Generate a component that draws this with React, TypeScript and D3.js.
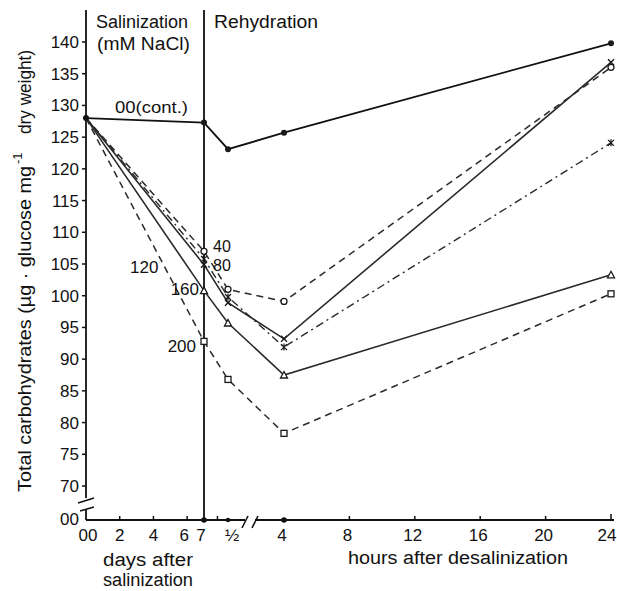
import React from "react";
import * as d3 from "d3";

const W = 617;
const H = 591;

// ---- data ----
const yTickValues = [70, 75, 80, 85, 90, 95, 100, 105, 110, 115, 120, 125, 130, 135, 140];
const dayTicks = [0, 2, 4, 6, 7];
const dayTickLabels = ["00", "2", "4", "6", "7"];
const lateHourTicks = [4, 8, 12, 16, 20, 24];
const lateHourLabels = ["4", "8", "12", "16", "20", "24"];

// sampling times: [phase, time]
const samplePhases = ["day", "day", "early", "late", "late"];
const sampleTimes = [0, 7, 0.5, 4, 24];

const control = [128, 127.3, 123.1, 125.7, 139.8];
const nacl40 = [128, 107, 101, 99.1, 136];
const nacl80 = [128, 104.9, 98.9, 93.2, 136.8];
const nacl120 = [128, 105.8, 99.8, 91.9, 124.1];
const nacl160 = [128, 100.8, 95.7, 87.5, 103.3];
const nacl200 = [128, 92.8, 86.8, 78.3, 100.3];

const seriesLabels = ["00(cont.)", "40", "80", "120", "160", "200"];

// ---- scales ----
const xDays = d3.scaleLinear().domain([0, 7]).range([86, 204]);
const xEarly = d3.scaleLinear().domain([0, 0.5]).range([204, 228]);
const xLate = d3.scaleLinear().domain([4, 24]).range([284, 611]);
const y = d3.scaleLinear().domain([70, 140]).range([486, 42]);
const AXIS_Y = 520;

function xPos(phase: string, t: number) {
  if (phase === "day") return xDays(t);
  if (phase === "early") return xEarly(t);
  return xLate(t);
}

type Style = { dash: string; marker: string; width: number };
const styles: Style[] = [
  { dash: "", marker: "dot", width: 1.8 },
  { dash: "7,5", marker: "circle", width: 1.5 },
  { dash: "", marker: "x", width: 1.6 },
  { dash: "8,4,2,4", marker: "star", width: 1.4 },
  { dash: "", marker: "triangle", width: 1.6 },
  { dash: "7,5", marker: "square", width: 1.5 },
];
const allSeries = [control, nacl40, nacl80, nacl120, nacl160, nacl200];

function Marker({ kind, cx, cy }: { kind: string; cx: number; cy: number }) {
  const c = "#1a1a1a";
  if (kind === "dot") return <circle cx={cx} cy={cy} r={3} fill={c} />;
  if (kind === "circle") return <circle cx={cx} cy={cy} r={3} fill="white" stroke={c} strokeWidth={1.3} />;
  if (kind === "square")
    return <rect x={cx - 3} y={cy - 3} width={6} height={6} fill="white" stroke={c} strokeWidth={1.3} />;
  if (kind === "triangle")
    return (
      <path d={`M${cx},${cy - 3.5}L${cx + 3.5},${cy + 3}L${cx - 3.5},${cy + 3}Z`} fill="white" stroke={c} strokeWidth={1.3} />
    );
  if (kind === "x")
    return (
      <path d={`M${cx - 3},${cy - 3}L${cx + 3},${cy + 3}M${cx - 3},${cy + 3}L${cx + 3},${cy - 3}`} stroke={c} strokeWidth={1.4} />
    );
  return (
    <path
      d={`M${cx - 3},${cy - 3}L${cx + 3},${cy + 3}M${cx - 3},${cy + 3}L${cx + 3},${cy - 3}M${cx},${cy - 3.5}L${cx},${cy + 3.5}`}
      stroke={c}
      strokeWidth={1.2}
    />
  );
}

export default function App() {
  const line = d3
    .line<number>()
    .x((_, i) => xPos(samplePhases[i], sampleTimes[i]))
    .y((v) => y(v));

  const font = "'Liberation Sans', Arial, sans-serif";
  const ink = "#111";

  const lx = xDays(7);
  return (
    <svg
      width={W}
      height={H}
      style={{ position: "absolute", left: 0, top: 0, background: "white" }}
      fontFamily={font}
      fill={ink}
    >
      <rect width={W} height={H} fill="white" />

      {/* y axis */}
      <line x1={86} y1={10} x2={86} y2={498} stroke={ink} strokeWidth={1.8} />
      <line x1={86} y1={510} x2={86} y2={AXIS_Y} stroke={ink} strokeWidth={1.8} />
      <line x1={78} y1={503} x2={94} y2={498} stroke={ink} strokeWidth={1.6} />
      <line x1={80} y1={511} x2={94} y2={507} stroke={ink} strokeWidth={1.6} />
      {yTickValues.map((v) => (
        <g key={v}>
          <line x1={82} x2={86} y1={y(v)} y2={y(v)} stroke={ink} strokeWidth={1.5} />
          <text x={79} y={y(v) + 6} fontSize={17} textAnchor="end">
            {v}
          </text>
        </g>
      ))}
      <text x={79} y={525} fontSize={17} textAnchor="end">
        00
      </text>

      {/* divider */}
      <line x1={xDays(7)} y1={10} x2={xDays(7)} y2={AXIS_Y} stroke={ink} strokeWidth={1.8} />

      {/* x axis */}
      <line x1={86} y1={AXIS_Y} x2={245} y2={AXIS_Y} stroke={ink} strokeWidth={1.8} />
      <line x1={255} y1={AXIS_Y} x2={614} y2={AXIS_Y} stroke={ink} strokeWidth={1.8} />
      <line x1={242} y1={528} x2={248} y2={516} stroke={ink} strokeWidth={1.6} />
      <line x1={252} y1={528} x2={258} y2={516} stroke={ink} strokeWidth={1.6} />
      {dayTicks.map((d, i) => (
        <g key={"d" + d}>
          {d > 0 && d < 7 && <line x1={xDays(d)} x2={xDays(d)} y1={AXIS_Y - 4} y2={AXIS_Y} stroke={ink} strokeWidth={1.5} />}
          <text x={xDays(d) + (d === 0 ? 2 : d >= 6 ? -3 : 0)} y={541} fontSize={17} textAnchor="middle">
            {dayTickLabels[i]}
          </text>
        </g>
      ))}
      <circle cx={xDays(7)} cy={AXIS_Y} r={2.8} fill={ink} />
      <line x1={xEarly(0.28)} x2={xEarly(0.28)} y1={AXIS_Y - 4} y2={AXIS_Y} stroke={ink} strokeWidth={1.5} />
      <circle cx={xEarly(0.5)} cy={AXIS_Y} r={2.2} fill={ink} />
      <text x={xEarly(0.5) + 4} y={541} fontSize={17} textAnchor="middle">
        ½
      </text>
      {lateHourTicks.map((h, i) => (
        <g key={"h" + h}>
          {h === 4 ? (
            <circle cx={xLate(h)} cy={AXIS_Y} r={2.8} fill={ink} />
          ) : (
            <line x1={xLate(h)} x2={xLate(h)} y1={AXIS_Y - (h === 24 ? 6 : 4)} y2={AXIS_Y} stroke={ink} strokeWidth={1.5} />
          )}
          <text x={xLate(h) - (h === 24 ? 4 : 2)} y={541} fontSize={17} textAnchor="middle">
            {lateHourLabels[i]}
          </text>
        </g>
      ))}

      {/* axis titles */}
      <text x={148} y={566} fontSize={18} textAnchor="middle" textLength={90} lengthAdjust="spacingAndGlyphs">
        days after
      </text>
      <text x={148} y={586} fontSize={18} textAnchor="middle" textLength={90} lengthAdjust="spacingAndGlyphs">
        salinization
      </text>
      <text x={458} y={564} fontSize={18} textAnchor="middle" textLength={220} lengthAdjust="spacingAndGlyphs">
        hours after desalinization
      </text>
      <g transform="translate(31,492) rotate(-90)">
        <text x={0} y={0} fontSize={18} textLength={326} lengthAdjust="spacingAndGlyphs">
          Total carbohydrates (µg · glucose mg
        </text>
        <text x={328} y={-9} fontSize={13}>
          -1
        </text>
        <text x={358} y={0} fontSize={18} textLength={84} lengthAdjust="spacingAndGlyphs">
          dry weight)
        </text>
      </g>

      {/* headers */}
      <text x={96} y={28} fontSize={18} textLength={92} lengthAdjust="spacingAndGlyphs">
        Salinization
      </text>
      <text x={97} y={50} fontSize={18} textLength={93} lengthAdjust="spacingAndGlyphs">
        (mM NaCl)
      </text>
      <text x={214} y={28} fontSize={18} textLength={104} lengthAdjust="spacingAndGlyphs">
        Rehydration
      </text>

      {/* series */}
      {allSeries.map((s, si) => (
        <g key={si}>
          <path
            d={line(s) || ""}
            fill="none"
            stroke={si === 0 ? "#111" : "#2a2a2a"}
            strokeWidth={styles[si].width}
            strokeDasharray={styles[si].dash || undefined}
          />
          {s.map((v, i) =>
            i === 0 ? null : (
              <Marker key={i} kind={styles[si].marker} cx={xPos(samplePhases[i], sampleTimes[i])} cy={y(v)} />
            )
          )}
        </g>
      ))}
      <circle cx={xDays(0)} cy={y(128)} r={3} fill={ink} />

      {/* series labels */}
      <text x={115} y={113} fontSize={17} textLength={73} lengthAdjust="spacingAndGlyphs">
        {seriesLabels[0]}
      </text>
      <text x={lx + 9} y={y(nacl40[1]) + 1} fontSize={16}>
        {seriesLabels[1]}
      </text>
      <text x={lx + 9} y={y(nacl80[1]) + 6} fontSize={16}>
        {seriesLabels[2]}
      </text>
      <text x={130} y={273} fontSize={17}>
        {seriesLabels[3]}
      </text>
      <text x={lx - 5} y={y(nacl160[1]) + 4} fontSize={17} textAnchor="end">
        {seriesLabels[4]}
      </text>
      <text x={lx - 8} y={y(nacl200[1]) + 11} fontSize={17} textAnchor="end">
        {seriesLabels[5]}
      </text>
    </svg>
  );
}
